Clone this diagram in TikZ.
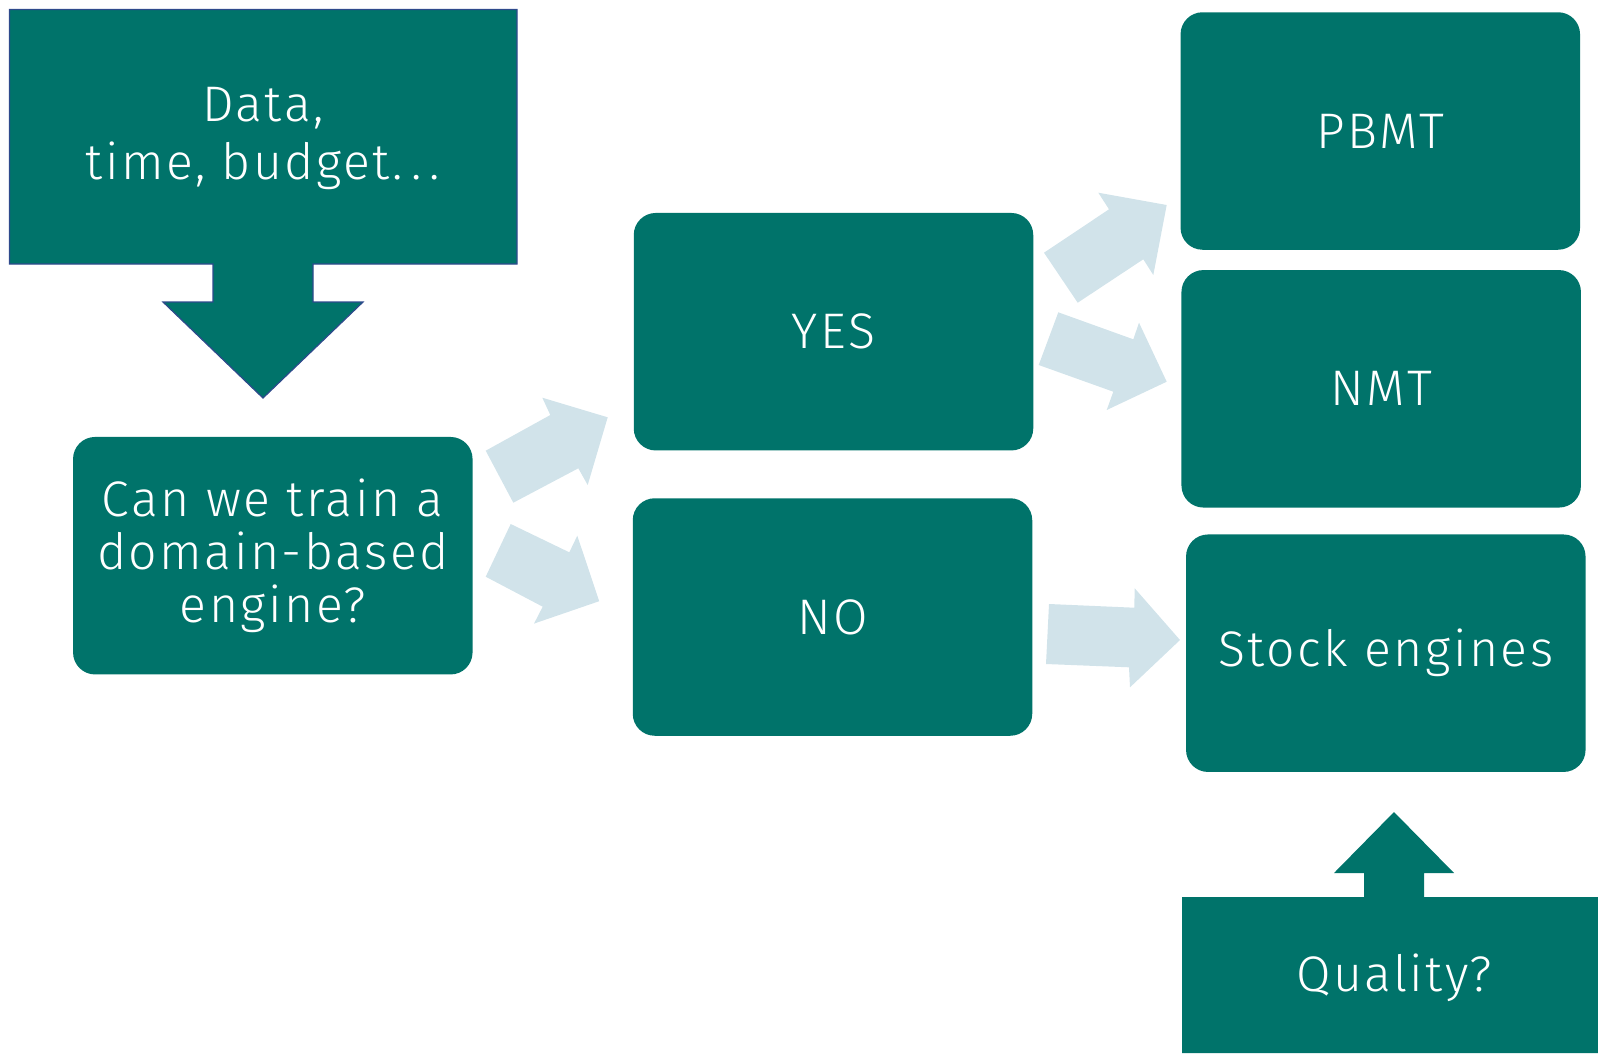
\documentclass[tikz,border=0pt]{standalone}
\usepackage{fontspec}
\setmainfont{Fira Sans}[UprightFont={* Light}, LetterSpace=5]
\definecolor{tealbox}{HTML}{00736A}
\definecolor{lblue}{HTML}{D1E3EA}
\definecolor{edgeblue}{HTML}{2E4A8C}
\begin{document}
\begin{tikzpicture}[x=1pt,y=-1pt,
  box/.style={fill=tealbox, rounded corners=22pt, text=white, align=center,
    font=\fontsize{50}{53}\selectfont, inner sep=0pt,
    minimum width=399.5pt, minimum height=237.5pt},
  label/.style={text=white, align=center, inner sep=0pt},
  barrow/.style={fill=lblue},
  callout/.style={fill=tealbox}]
\useasboundingbox (0,0) rectangle (1598,1053);

% top-left callout
\fill[callout, draw=edgeblue, line width=1.2pt]
  (9.5,9.5) -- (517,9.5) -- (517,264) -- (313,264) -- (313,302) -- (363,302)
  -- (263,398) -- (163,302) -- (213,302) -- (213,264) -- (9.5,264) -- cycle;
\node[label, font=\fontsize{50}{58}\selectfont] (data) at (263,138) {Data,\\time, budget.\,.\,.};

% bottom-right callout
\fill[callout]
  (1182,897) -- (1364,897) -- (1364,873) -- (1334,873) -- (1394,812)
  -- (1454,873) -- (1424,873) -- (1424,897) -- (1598,897) -- (1598,1053)
  -- (1182,1053) -- cycle;
\node[label, font=\fontsize{50}{53}\selectfont] (quality) at (1394,978) {Quality?};

% boxes
\node[box] (can) at (272.8,555.7) {Can we train a\\domain-based\\engine?};
\node[box] (yes) at (833.5,331.7) {YES};
\node[box] (no) at (832.5,617) {NO};
\node[box] (pbmt) at (1380.3,131) {PBMT};
\node[box] (nmt) at (1381.2,388.8) {NMT};
\node[box] (stock) at (1385.8,653.2) {Stock engines};

% block arrows
\fill[barrow] (485.7,450.7) -- (550.3,415) -- (542.3,397.7) -- (607.7,417.3)
  -- (587.7,485) -- (578.3,468.3) -- (513.3,502.7) -- cycle;
\fill[barrow] (510.7,524) -- (485.7,576.7) -- (542.7,606.7) -- (534,623.6)
  -- (599.2,601.2) -- (577.3,535.7) -- (569.3,552.3) -- cycle;
\fill[barrow] (1044,252.7) -- (1109,209.3) -- (1098.3,192.7) -- (1166.7,205)
  -- (1153.3,275) -- (1143.3,259.3) -- (1077.7,302.7) -- cycle;
\fill[barrow] (1058.3,312.3) -- (1038.7,365) -- (1113.3,391.7) -- (1106.7,410)
  -- (1166.7,381.7) -- (1139,322.7) -- (1133.3,339.3) -- cycle;
\fill[barrow] (1049,604) -- (1046,664) -- (1129,667.3) -- (1130,687.3)
  -- (1180,640) -- (1134.7,588.3) -- (1134.3,607.7) -- cycle;
\end{tikzpicture}
\end{document}
